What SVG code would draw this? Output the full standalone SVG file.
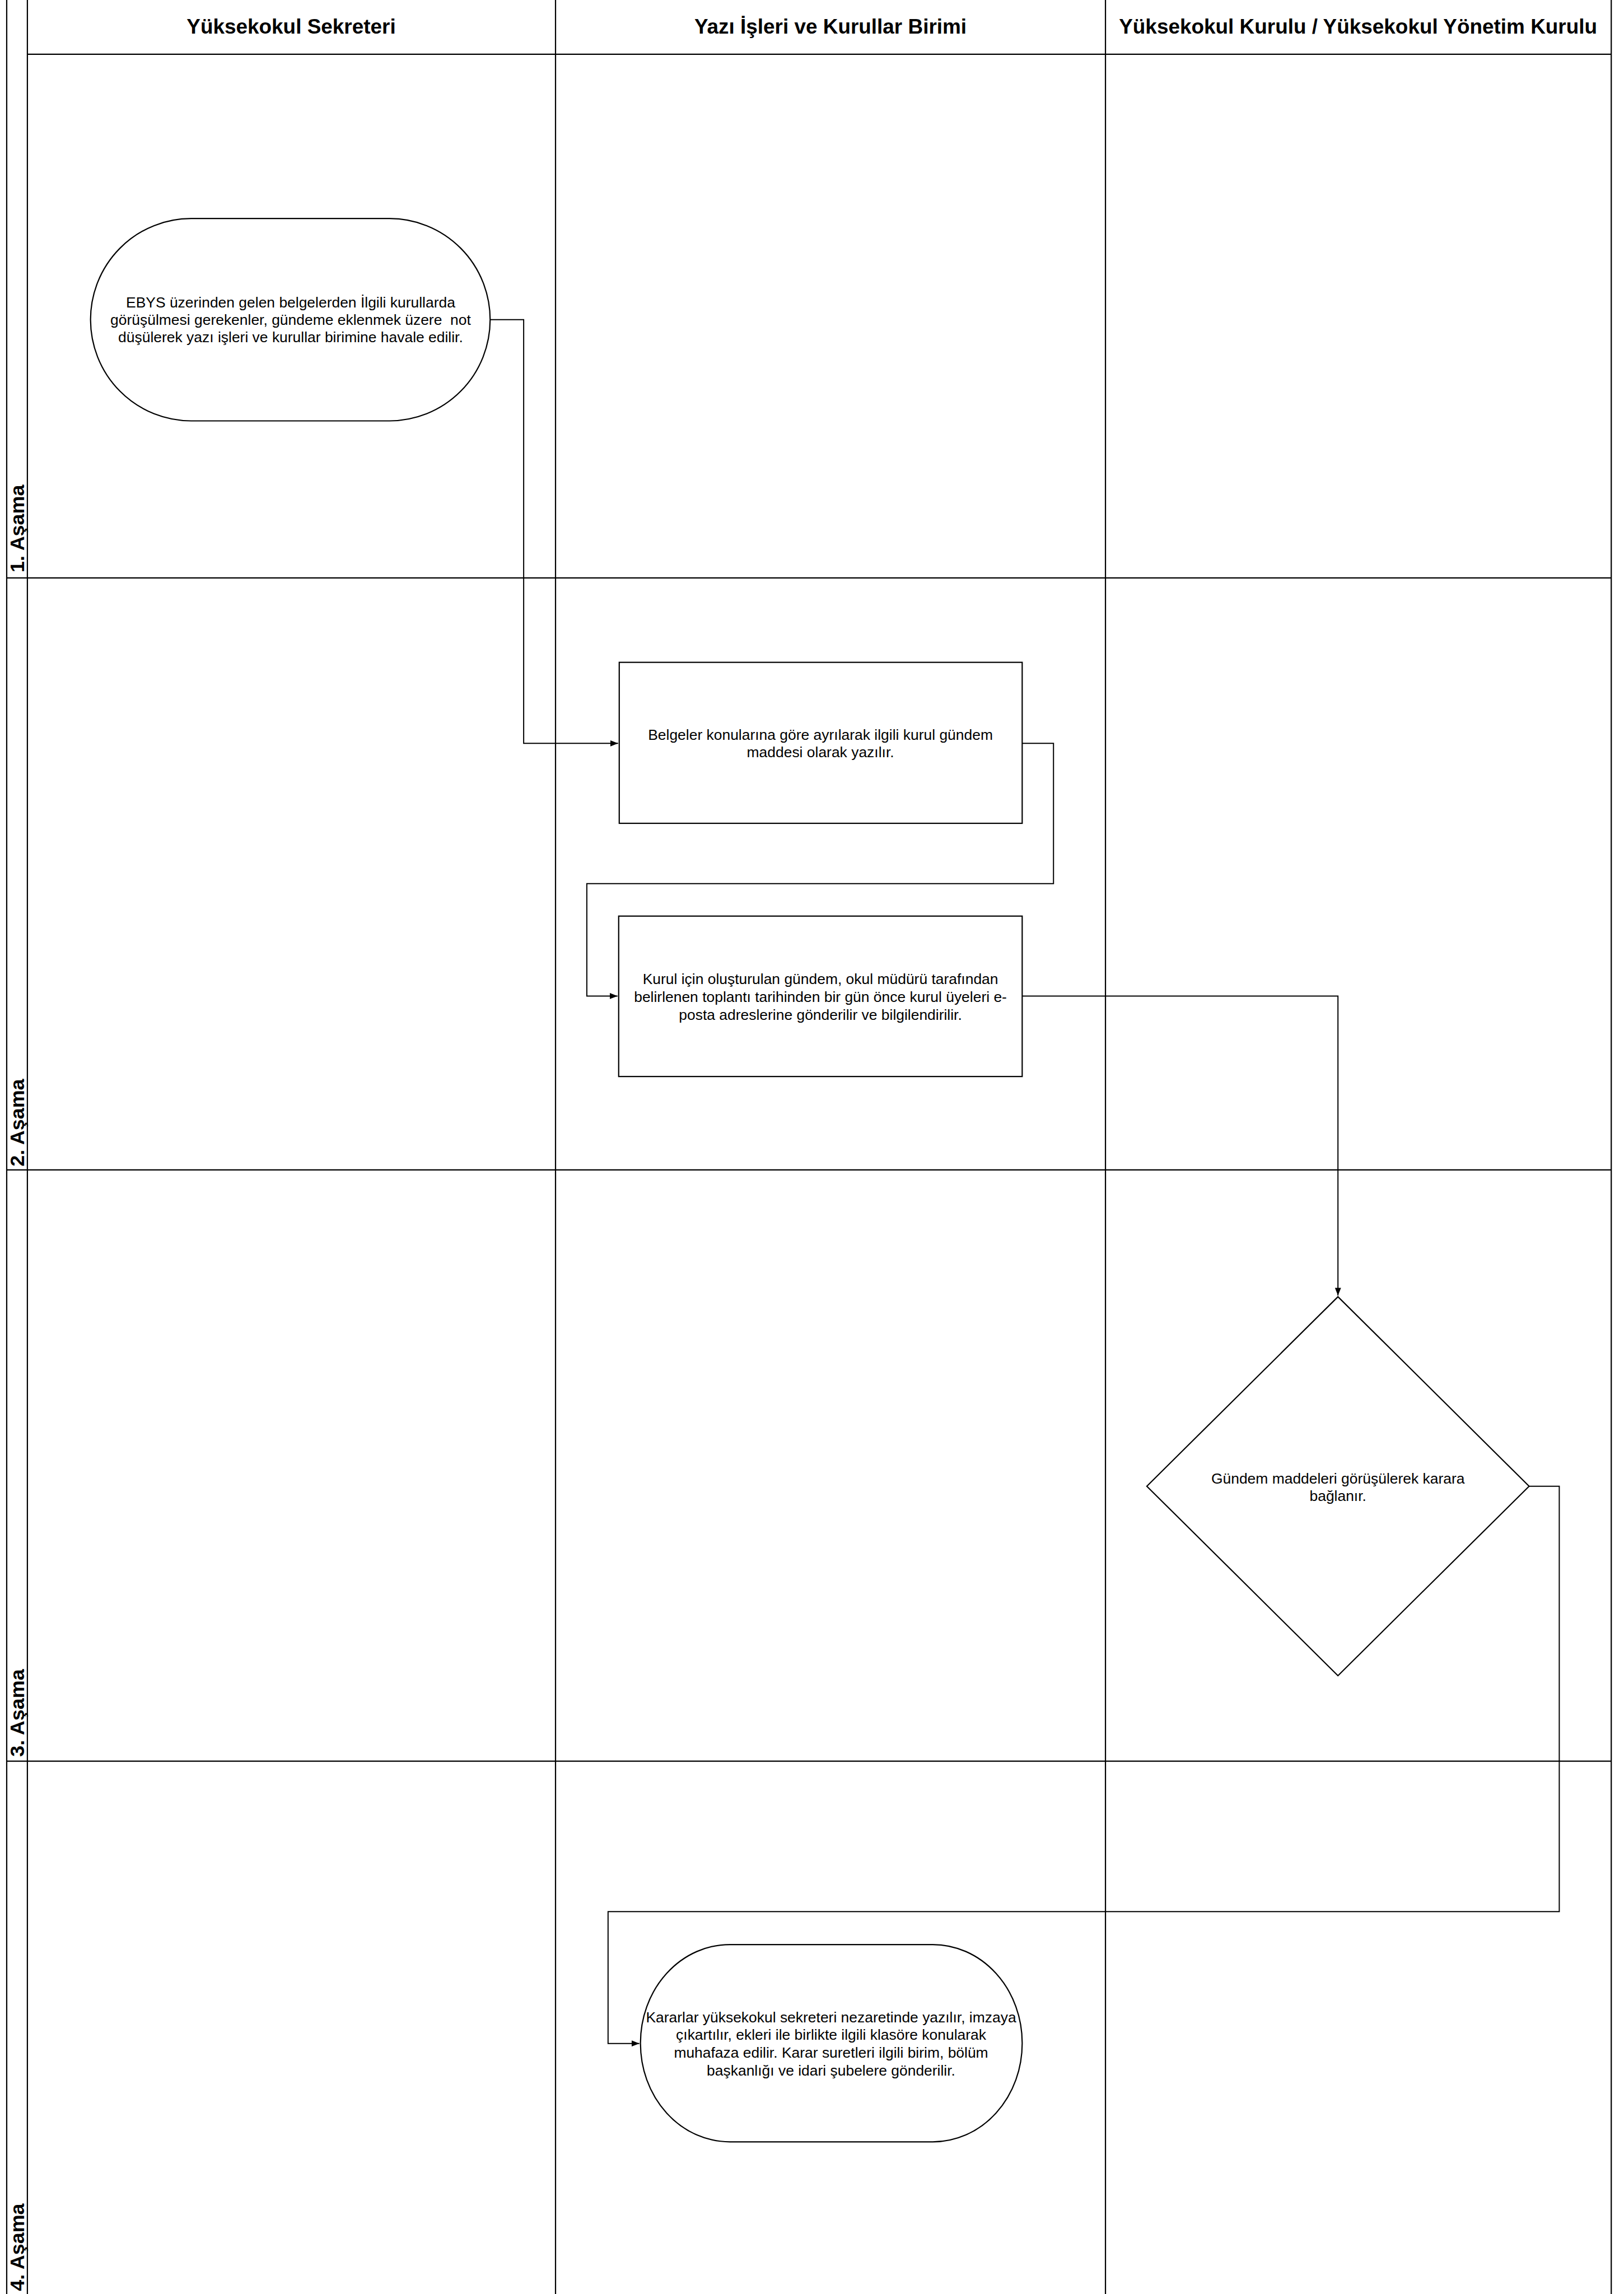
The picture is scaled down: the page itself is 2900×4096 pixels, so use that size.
<svg xmlns="http://www.w3.org/2000/svg" width="2900" height="4096" viewBox="0 0 2900 4096">
<style>
.lane{stroke:#000;stroke-width:2.2;fill:none}
.shape{stroke:#000;stroke-width:2.2;fill:#fff}
.conn{stroke:#000;stroke-width:2;fill:none}
.hdr{font-family:"Liberation Sans",Arial,sans-serif;font-weight:bold;font-size:37px;text-anchor:middle;fill:#000}
.rowlbl{font-family:"Liberation Sans",Arial,sans-serif;font-weight:bold;font-size:36px;fill:#000}
.txt{font-family:"Liberation Sans",Arial,sans-serif;font-size:26.5px;text-anchor:middle;dominant-baseline:central;fill:#000}
</style>
<defs>
<marker id="arr" markerUnits="userSpaceOnUse" markerWidth="15" markerHeight="11" refX="14" refY="5.5" orient="auto">
<path d="M0,0 L14,5.5 L0,11 z" fill="#000"/>
</marker>
</defs>
<rect x="0" y="0" width="2900" height="4096" fill="#fff"/>
<g transform="scale(0.998)">
<g id="lanes">
<line class="lane" x1="12" y1="0" x2="12" y2="4110"/>
<line class="lane" x1="49" y1="0" x2="49" y2="4110"/>
<line class="lane" x1="994" y1="0" x2="994" y2="4110"/>
<line class="lane" x1="1978" y1="0" x2="1978" y2="4110"/>
<line class="lane" x1="2883" y1="0" x2="2883" y2="4110"/>
<line class="lane" x1="49" y1="97" x2="2883" y2="97" stroke-width="3"/>
<line class="lane" x1="12" y1="1034" x2="2883" y2="1034"/>
<line class="lane" x1="12" y1="2093" x2="2883" y2="2093"/>
<line class="lane" x1="12" y1="3151" x2="2883" y2="3151"/>
<text class="hdr" x="521" y="60">Yüksekokul Sekreteri</text>
<text class="hdr" x="1486" y="60">Yazı İşleri ve Kurullar Birimi</text>
<text class="hdr" x="2430" y="60">Yüksekokul Kurulu / Yüksekokul Yönetim Kurulu</text>
<text class="rowlbl" transform="translate(43,1024) rotate(-90)">1. Aşama</text>
<text class="rowlbl" transform="translate(43,2087) rotate(-90)">2. Aşama</text>
<text class="rowlbl" transform="translate(43,3143) rotate(-90)">3. Aşama</text>
<text class="rowlbl" transform="translate(43,4099) rotate(-90)">4. Aşama</text>
</g>
<g id="connectors">
<polyline class="conn" points="877,572 937,572 937,1330 1106,1330" marker-end="url(#arr)"/>
<polyline class="conn" points="1829,1330 1885,1330 1885,1581 1050,1581 1050,1782 1105,1782" marker-end="url(#arr)"/>
<polyline class="conn" points="1829,1782 2394,1782 2394,2318" marker-end="url(#arr)"/>
<polyline class="conn" points="2736,2659 2790,2659 2790,3420 1088,3420 1088,3656 1144,3656" marker-end="url(#arr)"/>
</g>
<g id="node1">
<rect class="shape" x="162" y="391" width="715" height="362" rx="180" ry="181"/>
<text class="txt" x="520" y="541">EBYS üzerinden gelen belgelerden İlgili kurullarda</text>
<text class="txt" x="520" y="572" xml:space="preserve">görüşülmesi gerekenler, gündeme eklenmek üzere  not</text>
<text class="txt" x="520" y="603">düşülerek yazı işleri ve kurullar birimine havale edilir.</text>
</g>
<g id="node2">
<rect class="shape" x="1108" y="1185" width="721" height="288"/>
<text class="txt" x="1468" y="1315">Belgeler konularına göre ayrılarak ilgili kurul gündem</text>
<text class="txt" x="1468" y="1346">maddesi olarak yazılır.</text>
</g>
<g id="node3">
<rect class="shape" x="1107" y="1639" width="722" height="287"/>
<text class="txt" x="1468" y="1752">Kurul için oluşturulan gündem, okul müdürü tarafından</text>
<text class="txt" x="1468" y="1784">belirlenen toplantı tarihinden bir gün önce kurul üyeleri e-</text>
<text class="txt" x="1468" y="1816">posta adreslerine gönderilir ve bilgilendirilir.</text>
</g>
<g id="node4">
<polygon class="shape" points="2394,2320 2736,2659 2394,2998 2052,2659"/>
<text class="txt" x="2394" y="2645">Gündem maddeleri görüşülerek karara</text>
<text class="txt" x="2394" y="2676">bağlanır.</text>
</g>
<g id="node5">
<rect class="shape" x="1146" y="3479" width="683" height="353" rx="160" ry="176"/>
<text class="txt" x="1487" y="3609">Kararlar yüksekokul sekreteri nezaretinde yazılır, imzaya</text>
<text class="txt" x="1487" y="3640">çıkartılır, ekleri ile birlikte ilgili klasöre konularak</text>
<text class="txt" x="1487" y="3672">muhafaza edilir. Karar suretleri ilgili birim, bölüm</text>
<text class="txt" x="1487" y="3704">başkanlığı ve idari şubelere gönderilir.</text>
</g>
</g>
</svg>
